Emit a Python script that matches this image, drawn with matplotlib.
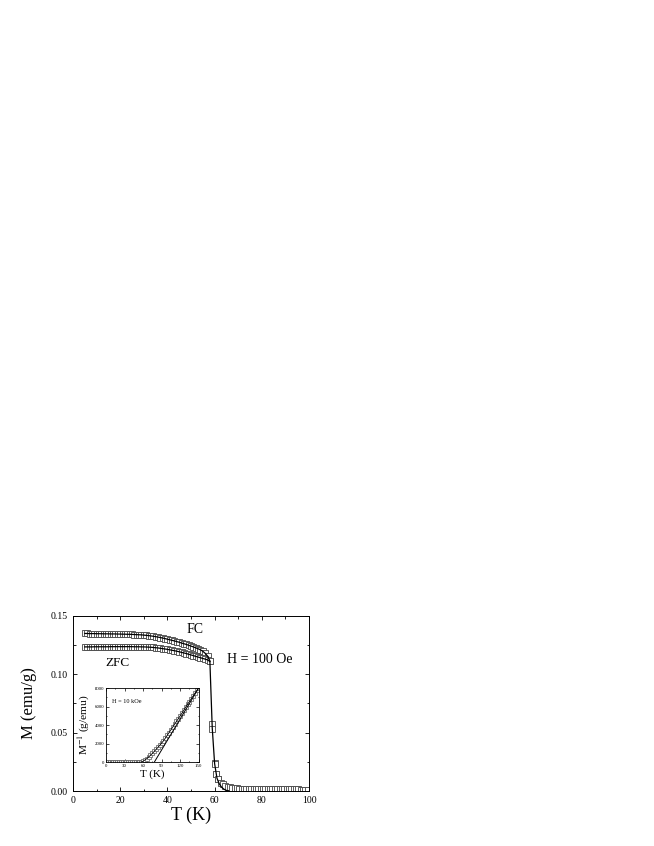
import matplotlib
matplotlib.use('Agg')
import matplotlib.pyplot as plt
from matplotlib.ticker import MultipleLocator

plt.rcParams['font.family'] = ['Liberation Serif', 'DejaVu Serif']
plt.rcParams['mathtext.fontset'] = 'stix'

# main panel data: M(T) at H = 100 Oe
T_fc = [5, 6, 7, 8, 9, 10, 11, 12, 13, 14, 15, 16, 17, 18, 19, 20, 21, 22, 23, 24,
        25, 26, 27, 28, 29, 30, 31, 32, 33, 34, 35, 36, 37, 38, 39, 40, 41, 42, 43, 44,
        45, 46, 47, 48, 49, 50, 51, 52, 53, 54, 55, 56, 57, 58, 59, 60, 60.7, 61.5]
M_fc = [0.1350, 0.1350, 0.1349, 0.1349, 0.1349, 0.1348, 0.1348, 0.1348, 0.1347, 0.1347,
        0.1347, 0.1346, 0.1346, 0.1346, 0.1345, 0.1345, 0.1344, 0.1344, 0.1343, 0.1343,
        0.1342, 0.1341, 0.1340, 0.1339, 0.1338, 0.1336, 0.1334, 0.1332, 0.1329, 0.1326,
        0.1323, 0.1319, 0.1315, 0.1311, 0.1306, 0.1301, 0.1296, 0.1291, 0.1286, 0.1280,
        0.1275, 0.1268, 0.1262, 0.1256, 0.1249, 0.1242, 0.1235, 0.1227, 0.1219, 0.1210,
        0.1198, 0.1180, 0.1157, 0.1115, 0.0570, 0.0240, 0.0150, 0.0105]

T_zfc = [5, 6, 7, 8, 9, 10, 11, 12, 13, 14, 15, 16, 17, 18, 19, 20, 21, 22, 23, 24,
         25, 26, 27, 28, 29, 30, 31, 32, 33, 34, 35, 36, 37, 38, 39, 40, 41, 42, 43, 44,
         45, 46, 47, 48, 49, 50, 51, 52, 53, 54, 55, 56, 57, 58, 59, 60, 60.7, 61.5,
         62.5, 63.5, 64.5, 65.5, 66.5, 67.5, 68.5, 69.5, 70.5, 71.5, 72.5, 73.5, 74.5,
         75.5, 76.5, 77.5, 78.5, 79.5, 80.5, 81.5, 82.5, 83.5, 84.5, 85.5, 86.5, 87.5,
         88.5, 89.5, 90.5, 91.5, 92.5, 93.5, 94.5, 95.5, 96.5, 97.5, 98.5, 99.5]
M_zfc = [0.1235, 0.1235, 0.1235, 0.1235, 0.1236, 0.1236, 0.1236, 0.1236, 0.1236, 0.1236,
         0.1236, 0.1237, 0.1237, 0.1237, 0.1237, 0.1237, 0.1237, 0.1237, 0.1237, 0.1237,
         0.1237, 0.1236, 0.1236, 0.1236, 0.1235, 0.1235, 0.1234, 0.1233, 0.1232, 0.1230,
         0.1228, 0.1226, 0.1223, 0.1220, 0.1217, 0.1214, 0.1210, 0.1206, 0.1202, 0.1198,
         0.1193, 0.1188, 0.1183, 0.1178, 0.1172, 0.1166, 0.1160, 0.1154, 0.1148, 0.1142,
         0.1136, 0.1130, 0.1124, 0.1110, 0.0530, 0.0235, 0.0145, 0.0100,
         0.0072, 0.0056, 0.0046, 0.0038, 0.0032, 0.0028, 0.0025, 0.0023, 0.0021, 0.0020,
         0.0019, 0.0018, 0.0018, 0.0017, 0.0017, 0.0016, 0.0016, 0.0016, 0.0015, 0.0015,
         0.0015, 0.0015, 0.0014, 0.0014, 0.0014, 0.0014, 0.0014, 0.0013, 0.0013, 0.0013,
         0.0013, 0.0013, 0.0013, 0.0013, 0.0012, 0.0012, 0.0012, 0.0012]

# guide line under the tail (drops to zero faster than the points)
T_guide = [58, 59, 60, 61, 62, 63, 64, 65, 66]
M_guide = [0.1110, 0.0540, 0.0235, 0.0110, 0.0060, 0.0032, 0.0015, 0.0005, 0.0]

# inset: inverse magnetization at H = 10 kOe
T_inv = [0, 3, 6, 9, 12, 15, 18, 21, 24, 27, 30, 33, 36, 39, 42, 45, 48, 51, 54, 57,
         60, 63, 66, 69, 72, 75, 78, 81, 84, 87, 90, 93, 96, 99, 102, 105, 108, 111, 114,
         117, 120, 123, 126, 129, 132, 135, 138, 141, 144, 147, 150]
M_inv = [0, 0, 0, 0, 0, 0, 0, 0, 0, 0, 0, 0, 0, 0, 0, 0, 0, 0, 0, 30,
         120, 250, 400, 570, 760, 960, 1170, 1390, 1610, 1840, 2070, 2320, 2600, 2900,
         3200, 3500, 3800, 4100, 4400, 4700, 5000, 5300, 5620, 5950, 6250, 6550, 6850,
         7150, 7450, 7750, 8050]
T_fit = [78, 150]
M_fit = [0, 8000]

fig = plt.figure(figsize=(6.54, 8.46), dpi=100)
ax = fig.add_axes([0.1116, 0.0650, 0.3609, 0.2069])

ax.plot(T_fc, M_fc, ls='none', marker='s', ms=4.4, mfc='white', mec='#444444', mew=0.6, zorder=2)
ax.plot(T_zfc, M_zfc, ls='none', marker='s', ms=4.4, mfc='white', mec='#444444', mew=0.6, zorder=2)
ax.plot(T_fc[:54], M_fc[:54], color='black', lw=0.9, zorder=3)
ax.plot(T_zfc[:54], M_zfc[:54], color='black', lw=0.9, zorder=3)
ax.plot(T_guide, M_guide, color='black', lw=0.9, zorder=3)

ax.set_xlim(0, 100)
ax.set_ylim(0, 0.15)
ax.set_xticks([0, 20, 40, 60, 80, 100])
ax.set_yticks([0.00, 0.05, 0.10, 0.15])
ax.set_yticklabels(['0.00', '0.05', '0.10', '0.15'])
ax.xaxis.set_minor_locator(MultipleLocator(10))
ax.yaxis.set_minor_locator(MultipleLocator(0.025))
ax.tick_params(which='both', direction='in', top=True, right=True, labelsize=7, width=0.6)
ax.tick_params(which='major', length=3)
ax.tick_params(which='minor', length=1.8)
for s in ax.spines.values():
    s.set_linewidth(0.7)
ax.set_xlabel('T (K)', fontsize=13, labelpad=1)
ax.set_ylabel('M (emu/g)', fontsize=12, labelpad=10)

ax.text(51.5, 0.138, 'FC', fontsize=10, ha='center', va='center')
ax.text(19, 0.110, 'ZFC', fontsize=9.5, ha='center', va='center')
ax.text(79, 0.113, 'H = 100 Oe', fontsize=10, ha='center', va='center')

# inset
ins = fig.add_axes([0.1621, 0.0989, 0.1417, 0.0878])
ins.plot(T_inv, M_inv, ls='none', marker='s', ms=3.0, mfc='white', mec='#555555', mew=0.5, zorder=2)
ins.plot(T_inv, M_inv, color='black', lw=0.6, zorder=3)
ins.plot(T_fit, M_fit, color='black', lw=0.7, zorder=3)
ins.set_xlim(0, 150)
ins.set_ylim(0, 8000)
ins.set_xticks([0, 30, 60, 90, 120, 150])
ins.set_yticks([0, 2000, 4000, 6000, 8000])
ins.xaxis.set_minor_locator(MultipleLocator(15))
ins.yaxis.set_minor_locator(MultipleLocator(1000))
ins.tick_params(which='both', direction='in', top=True, right=True, labelsize=3.5, width=0.5, pad=1)
ins.tick_params(which='major', length=2)
ins.tick_params(which='minor', length=1)
for s in ins.spines.values():
    s.set_linewidth(0.6)
ins.set_xlabel('T (K)', fontsize=8, labelpad=1)
ins.set_ylabel(r'M$^{-1}$ (g/emu)', fontsize=8.2, labelpad=2.5)
ins.text(10, 6500, 'H = 10 kOe', fontsize=4.5, ha='left', va='center')

fig.savefig('out.png', dpi=100)
